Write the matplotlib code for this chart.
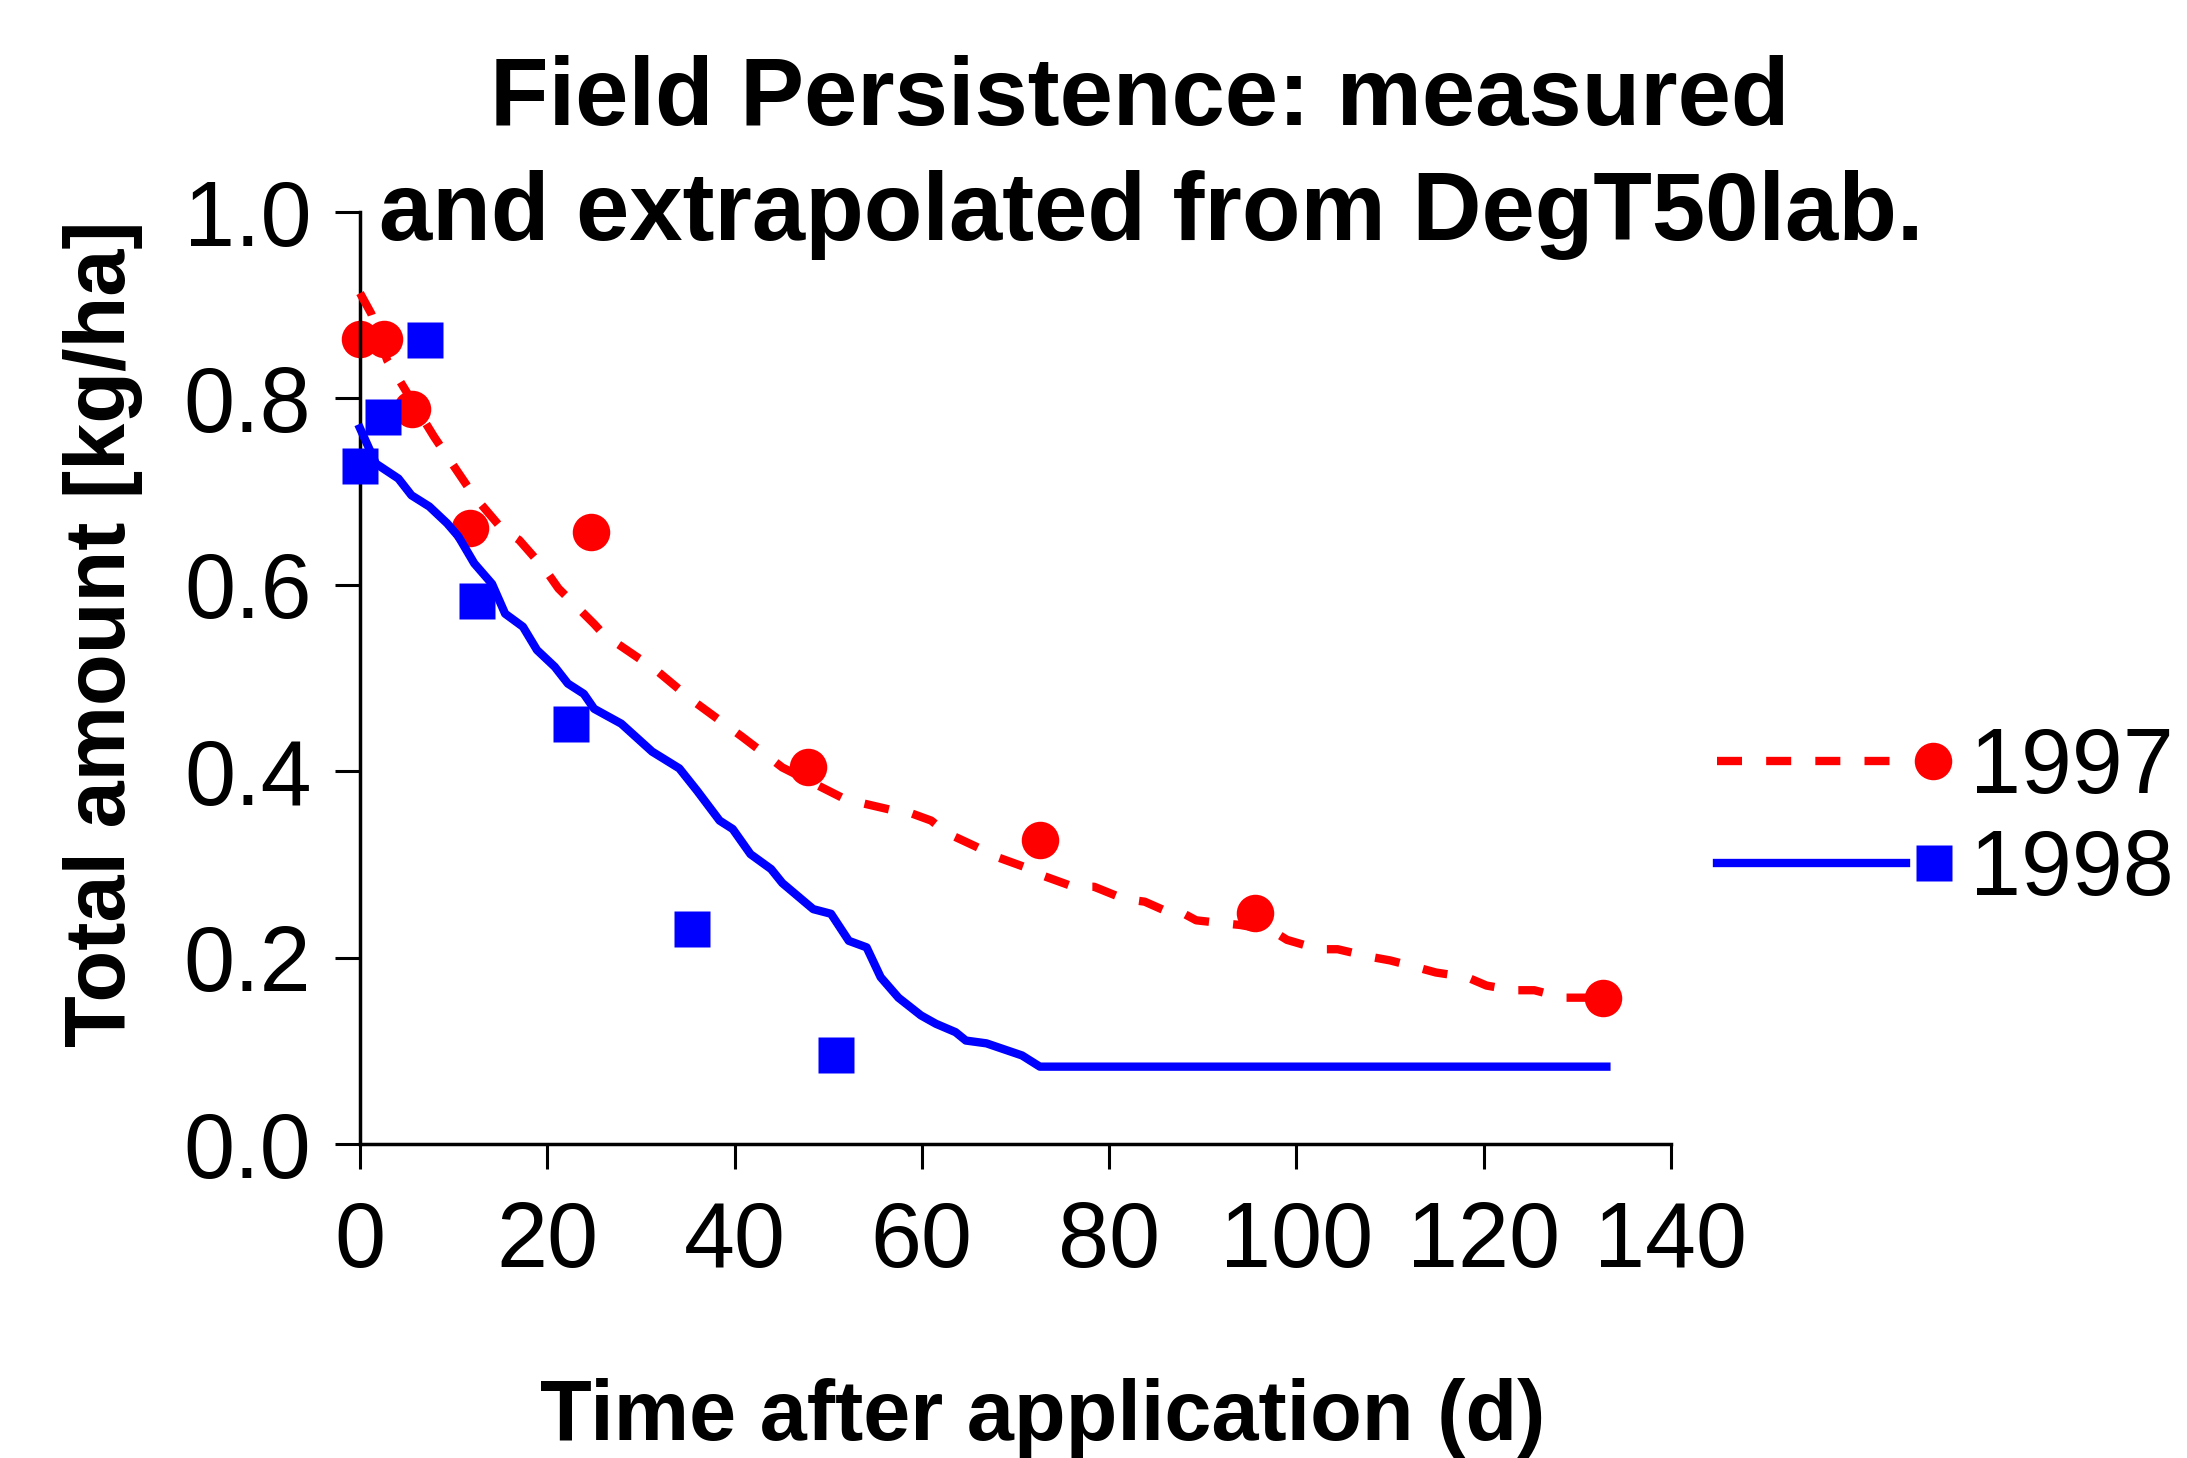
import matplotlib
matplotlib.use("Agg")
import matplotlib.pyplot as plt
from matplotlib.lines import Line2D
from matplotlib.legend_handler import HandlerBase

plt.rcParams['font.family'] = ['Liberation Sans', 'DejaVu Sans']

# ---------------- data ----------------
meas97_x = [0, 2.6, 5.5, 11.7, 24.7, 47.8, 72.6, 95.6, 132.7]
meas97_y = [0.864, 0.864, 0.789, 0.661, 0.657, 0.405, 0.326, 0.248, 0.157]

meas98_x = [0, 2.5, 6.9, 12.5, 22.5, 35.5, 50.8]
meas98_y = [0.727, 0.780, 0.863, 0.583, 0.451, 0.231, 0.095]

sim97_x = [0, 1.2, 2.9, 4.6, 7.9, 9.1, 12.2, 15, 17, 19.8, 21.2, 25, 26, 29.8, 31.2,
           35.5, 40.8, 45.1, 51.8, 56.5, 58, 61, 62.6, 65.8, 68, 71.3, 72.9, 76.2,
           78.4, 81.6, 83.8, 86.5, 88, 89.3, 92, 94, 97.4, 99, 102.4, 104.4, 107.8,
           110, 112.7, 114.9, 118.2, 120.3, 123.1, 125.4, 128.5, 132.7]
sim97_y = [0.913, 0.891, 0.841, 0.813, 0.759, 0.741, 0.695, 0.662, 0.648, 0.616, 0.596,
           0.558, 0.547, 0.521, 0.512, 0.476, 0.437, 0.404, 0.370, 0.359, 0.358, 0.347,
           0.334, 0.319, 0.308, 0.296, 0.288, 0.276, 0.276, 0.263, 0.260, 0.248, 0.247,
           0.240, 0.237, 0.235, 0.229, 0.219, 0.209, 0.209, 0.201, 0.197, 0.190, 0.184,
           0.179, 0.170, 0.165, 0.165, 0.157, 0.157]

sim98_x = [0, 1.7, 4.1, 5.5, 7.4, 9.3, 10.5, 12.2, 14.1, 15.5, 17.4, 18.9, 20.8, 22.2,
           23.9, 25, 27.9, 31.2, 34.1, 36, 38.4, 39.8, 41.7, 43.9, 45.1, 48.4, 50.3,
           52.2, 54.1, 55.6, 57.5, 59.9, 61.5, 63.6, 64.7, 66.9, 70.7, 72.6, 133.1]
sim98_y = [0.768, 0.730, 0.714, 0.696, 0.684, 0.666, 0.652, 0.623, 0.601, 0.569, 0.555,
           0.530, 0.512, 0.494, 0.483, 0.467, 0.451, 0.421, 0.403, 0.379, 0.347, 0.338,
           0.311, 0.295, 0.280, 0.252, 0.247, 0.218, 0.211, 0.179, 0.157, 0.138, 0.129,
           0.120, 0.111, 0.108, 0.095, 0.083, 0.083]

series_labels = ['1997', '1998']
x_ticks = [0, 20, 40, 60, 80, 100, 120, 140]
y_ticks = [0.0, 0.2, 0.4, 0.6, 0.8, 1.0]

# ---------------- figure ----------------
fig = plt.figure(figsize=(21.87, 14.58), dpi=100)
ax = fig.add_axes([0.16461, 0.21536, 0.59945, 0.63923])

LW = 6
MS = 27
DASH = (3.0, 2.9)

ax.plot(meas97_x, meas97_y, ls='none', marker='o', ms=MS, color='#ff0000',
        mec='none', clip_on=False, zorder=2)
ax.plot(meas98_x, meas98_y, ls='none', marker='s', ms=MS * 0.96, color='#0000ff',
        mec='none', clip_on=False, zorder=3)
ax.plot(sim97_x, sim97_y, color='#ff0000', lw=LW, dashes=DASH, clip_on=False, zorder=4)
ax.plot(sim98_x, sim98_y, color='#0000ff', lw=LW, clip_on=False, zorder=5)

ax.set_xlim(0, 140)
ax.set_ylim(0, 1.0)
ax.set_xticks(x_ticks)
ax.set_xticklabels([str(t) for t in x_ticks])
ax.set_yticks(y_ticks)
ax.set_yticklabels([f"{t:.1f}" for t in y_ticks])

for s in ['top', 'right']:
    ax.spines[s].set_visible(False)
for s in ['left', 'bottom']:
    ax.spines[s].set_linewidth(2.5)

ax.tick_params(axis='both', direction='out', length=18, width=2.2, labelsize=66)
ax.tick_params(axis='x', pad=22)
ax.tick_params(axis='y', pad=17)

ax.set_xlabel('Time after application (d)', fontsize=61, fontweight='bold')
ax.xaxis.label.set_va('baseline')
ax.xaxis.set_label_coords(0.521, -(1440 - 1144) / 932)
ax.set_ylabel('Total amount [kg/ha]', fontsize=61, fontweight='bold')
ax.yaxis.label.set_va('center')
ax.yaxis.set_label_coords(-0.196, 0.548)

fig.text(0.5213, 1 - 125 / 1458, 'Field Persistence: measured', ha='center',
         va='baseline', fontsize=69, fontweight='bold')
fig.text(0.5263, 1 - 240 / 1458, 'and extrapolated from DegT50lab.', ha='center',
         va='baseline', fontsize=69, fontweight='bold')


# ---------------- legend: line then marker ----------------
class LineThenMarker(HandlerBase):
    def create_artists(self, legend, orig_handle, xdescent, ydescent, width, height,
                       fontsize, trans):
        line_h, mark_h = orig_handle
        y = height / 2 - ydescent
        ms = mark_h.get_markersize()
        x0 = -xdescent
        x1 = -xdescent + width
        ln = Line2D([0], [0])
        ln.update_from(line_h)
        ln.set_data([x0, x1 - ms - 7], [y, y])
        ln.set_transform(trans)
        mk = Line2D([0], [0])
        mk.update_from(mark_h)
        mk.set_data([x1 - ms / 2], [y])
        mk.set_transform(trans)
        return [ln, mk]


h97 = (Line2D([], [], color='#ff0000', lw=LW, dashes=DASH),
       Line2D([], [], color='#ff0000', ls='none', marker='o', ms=MS, mec='none'))
h98 = (Line2D([], [], color='#0000ff', lw=LW),
       Line2D([], [], color='#0000ff', ls='none', marker='s', ms=MS * 0.96, mec='none'))

fig.legend([h97, h98], series_labels, handler_map={tuple: LineThenMarker()},
           loc='center left', bbox_to_anchor=(1717 / 2187, 1 - 820 / 1458),
           bbox_transform=fig.transFigure, frameon=False, fontsize=66,
           handlelength=2.56, handletextpad=0.2, labelspacing=0.18,
           borderpad=0, borderaxespad=0)

fig.savefig('out.png', dpi=100)
